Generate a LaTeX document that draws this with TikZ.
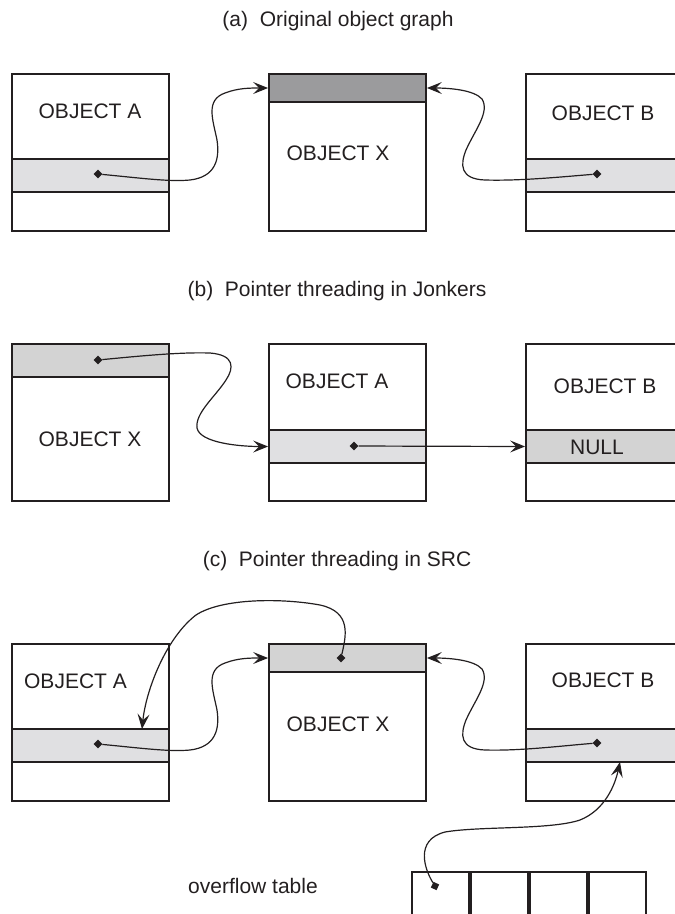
\documentclass[tikz,border=0pt]{standalone}
\usepackage{fontspec}
\setmainfont{Liberation Sans}
\usetikzlibrary{arrows.meta,shapes.geometric,calc}

\definecolor{ink}{HTML}{231F20}
\definecolor{bandlight}{HTML}{E0E0E2}
\definecolor{bandmid}{HTML}{D3D3D3}
\definecolor{banddark}{HTML}{9B9B9D}

\tikzset{
  objbox/.style={draw=ink, line width=1.8pt, minimum width=157pt, minimum height=157pt, inner sep=0pt},
  field/.style={draw=ink, line width=1.8pt, minimum width=157pt, inner sep=0pt},
  lbl/.style={anchor=base, text=ink, inner sep=0pt, font=\fontsize{21}{25}\selectfont},
  ptr/.style={diamond, fill=ink, draw=none, inner sep=0pt, minimum size=9pt},
  link/.style={draw=ink, line width=1.2pt, -{Stealth[length=15pt, width=12pt, inset=6pt]}},
  cell/.style={draw=ink, line width=1.8pt, minimum width=57.25pt, minimum height=80pt, inner sep=0pt, anchor=north west}
}

\begin{document}
\begin{tikzpicture}[x=1pt, y=-1pt]
\useasboundingbox (0,0) rectangle (675,914);

% ---------------- (a) original object graph ----------------
\node[lbl] (ta) at (338,26) {(a)~~Original object graph};

\node[objbox] (aA) at (90.5,152.5) {};
\node[field, fill=bandlight, minimum height=33pt] (aAf) at (90.5,175.5) {};
\node[objbox] (aX) at (347.5,152.5) {};
\node[field, fill=banddark, minimum height=28pt] (aXf) at (347.5,88) {};
\node[objbox, minimum width=160pt] (aB) at (606,152.5) {};
\node[field, fill=bandlight, minimum height=33pt, minimum width=160pt] (aBf) at (606,175.5) {};

\node[lbl] (aAt) at (90,118) {OBJECT A};
\node[lbl] (aXt) at (338,160) {OBJECT X};
\node[lbl] (aBt) at (603,120) {OBJECT B};

\node[ptr] (aAp) at (98,174) {};
\node[ptr] (aBp) at (597,174) {};

\draw[link] (aAp) .. controls (140,178) and (170,182) .. (190,180)
  .. controls (215,177) and (220,160) .. (217,140)
  .. controls (213,120) and (205,100) .. (225,93)
  .. controls (238,88) and (250,88) .. (aXf.west);
\draw[link] (aBp) .. controls (560,177) and (520,181) .. (485,180)
  .. controls (460,179) and (460,165) .. (466,150)
  .. controls (475,130) and (490,112) .. (482,99)
  .. controls (474,90) and (450,88) .. (aXf.east);

% ---------------- (b) pointer threading in Jonkers ----------------
\node[lbl] (tb) at (337,296) {(b)~~Pointer threading in Jonkers};

\node[objbox] (bX) at (90.5,422.5) {};
\node[field, fill=bandmid, minimum height=33pt] (bXf) at (90.5,360.5) {};
\node[objbox] (bA) at (347.5,422.5) {};
\node[field, fill=bandlight, minimum height=33pt] (bAf) at (347.5,446.5) {};
\node[objbox, minimum width=160pt] (bB) at (606,422.5) {};
\node[field, fill=bandmid, minimum height=33pt, minimum width=160pt] (bBf) at (606,446.5) {};

\node[lbl] (bXt) at (90,446) {OBJECT X};
\node[lbl] (bAt) at (337,388) {OBJECT A};
\node[lbl] (bBt) at (605,393) {OBJECT B};
\node[lbl] (bnull) at (597,454) {NULL};

\node[ptr] (bXp) at (98,360) {};
\node[ptr] (bAp) at (354,446) {};

\draw[link] (bXp) .. controls (140,356) and (180,352) .. (210,353)
  .. controls (235,355) and (234,368) .. (226,380)
  .. controls (215,397) and (195,413) .. (197,428)
  .. controls (200,443) and (240,446.5) .. (bAf.west);
\draw[link] (bAp) -- (bBf.west);

% ---------------- (c) pointer threading in SRC ----------------
\node[lbl] (tc) at (337,566) {(c)~~Pointer threading in SRC};

\node[objbox] (cA) at (90.5,722.5) {};
\node[field, fill=bandlight, minimum height=33pt] (cAf) at (90.5,745.5) {};
\node[objbox] (cX) at (347.5,722.5) {};
\node[field, fill=bandmid, minimum height=28pt] (cXf) at (347.5,658) {};
\node[objbox, minimum width=160pt] (cB) at (606,722.5) {};
\node[field, fill=bandlight, minimum height=33pt, minimum width=160pt] (cBf) at (606,745.5) {};

\node[lbl] (cAt) at (75.5,688) {OBJECT A};
\node[lbl] (cXt) at (338,731) {OBJECT X};
\node[lbl] (cBt) at (603,687) {OBJECT B};

% overflow table
\node[lbl] (ovt) at (253,893) {overflow table};
\node[cell] (ov1) at (411,871) {};
\node[cell] (ov2) at (ov1.north east) {};
\node[cell] (ov3) at (ov2.north east) {};
\node[cell] (ov4) at (ov3.north east) {};

\coordinate (cAin) at (142,729);
\coordinate (cBin) at (620,762);

\node[ptr] (cAp) at (98,744) {};
\node[ptr] (cBp) at (597,743) {};
\node[ptr] (cXp) at (341,658) {};
\node[ptr, rotate=20] (ovp) at (435,886) {};

\draw[link] (cAp) .. controls (140,748) and (170,752) .. (190,750)
  .. controls (215,747) and (220,730) .. (217,710)
  .. controls (213,690) and (205,670) .. (225,663)
  .. controls (238,658) and (250,658) .. (cXf.west);
\draw[link] (cBp) .. controls (560,746) and (520,751) .. (485,750)
  .. controls (460,749) and (460,735) .. (466,720)
  .. controls (475,700) and (490,682) .. (482,669)
  .. controls (474,660) and (450,658) .. (cXf.east);
\draw[link] (cXp) .. controls (346,636) and (352,612) .. (320,605)
  .. controls (282,598) and (222,598) .. (196,615)
  .. controls (166,638) and (146,690) .. (cAin);
\draw[link] (ovp) .. controls (425,870) and (414,840) .. (445,832)
  .. controls (480,826) and (550,830) .. (580,820)
  .. controls (605,810) and (615,785) .. (cBin);
\end{tikzpicture}
\end{document}
